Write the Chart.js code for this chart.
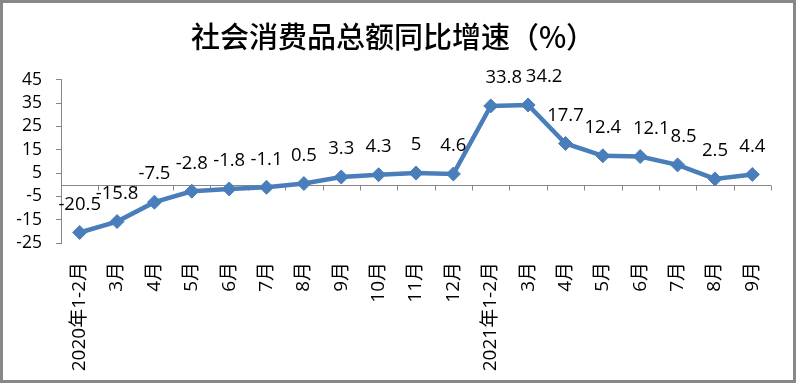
<!DOCTYPE html>
<html><head><meta charset="utf-8">
<script src="https://cdn.jsdelivr.net/npm/chart.js@4.4.0/dist/chart.umd.min.js"></script>
<style>html,body{margin:0;padding:0;background:#fff;}#wrap{width:796px;height:383px;}</style>
</head><body><div id="wrap"><canvas id="c" width="796" height="383"></canvas></div>
<script>
const categories = ['2020年1-2月','3月','4月','5月','6月','7月','8月','9月','10月','11月','12月','2021年1-2月','3月','4月','5月','6月','7月','8月','9月'];
const growth = [-20.5,-15.8,-7.5,-2.8,-1.8,-1.1,0.5,3.3,4.3,5,4.6,33.8,34.2,17.7,12.4,12.1,8.5,2.5,4.4];
const yTicks = [-25,-15,-5,5,15,25,35,45];
const titleText = '社会消费品总额同比增速（%）';

const AXIS = '#868686';
const LINE = '#4A7EBB';
const LATIN = '"Open Sans", "Noto Sans CJK SC", sans-serif';

const frame = {
  id: 'frame',
  afterDraw(chart) {
    const ctx = chart.ctx;
    ctx.save();
    ctx.strokeStyle = '#878787';
    ctx.lineWidth = 3;
    ctx.strokeRect(1.5, 1.5, chart.width - 3, chart.height - 3);
    ctx.restore();
  }
};

const zeroAxis = {
  id: 'zeroAxis',
  beforeDatasetsDraw(chart) {
    const {ctx, chartArea, scales} = chart;
    const y0 = Math.round(scales.y.getPixelForValue(0)) + 0.5;
    ctx.save();
    ctx.strokeStyle = AXIS;
    ctx.lineWidth = 1;
    ctx.beginPath();
    ctx.moveTo(chartArea.left, y0);
    ctx.lineTo(chartArea.right, y0);
    for (let i = 0; i <= categories.length; i++) {
      const x = Math.round(scales.x.getPixelForValue(i - 0.5)) + 0.5;
      ctx.moveTo(x, y0);
      ctx.lineTo(x, y0 + 5);
    }
    ctx.stroke();
    ctx.restore();
  }
};

const valueLabels = {
  id: 'valueLabels',
  afterDatasetsDraw(chart, args, opts) {
    const {ctx} = chart;
    const meta = chart.getDatasetMeta(0);
    ctx.save();
    ctx.font = '18.5px ' + LATIN;
    ctx.fillStyle = '#000';
    ctx.textAlign = 'center';
    ctx.textBaseline = 'middle';
    meta.data.forEach((pt, i) => {
      const dx = (opts.shift && opts.shift[i]) || 0;
      ctx.fillText(String(growth[i]), pt.x + dx, pt.y - 28);
    });
    ctx.restore();
  }
};

new Chart(document.getElementById('c'), {
  type: 'line',
  data: {
    labels: categories,
    datasets: [{
      data: growth,
      borderColor: LINE,
      backgroundColor: LINE,
      borderWidth: 4.5,
      pointStyle: 'rectRot',
      pointRadius: 7,
      pointBorderWidth: 1,
      pointBackgroundColor: LINE,
      pointBorderColor: LINE,
      tension: 0,
      fill: false
    }]
  },
  options: {
    responsive: false,
    animation: false,
    layout: {padding: {left: 15, right: 25, top: 0, bottom: 0}},
    plugins: {
      legend: {display: false},
      tooltip: {enabled: false},
      title: {
        display: true,
        text: titleText,
        color: '#000',
        font: {family: '"Noto Sans CJK SC", sans-serif', size: 29, weight: '500'},
        padding: {top: 20, bottom: 25}
      },
      valueLabels: {shift: {11: 13, 12: 16, 15: 11, 16: 6}}
    },
    scales: {
      x: {
        type: 'category',
        offset: true,
        grid: {display: false, drawTicks: false},
        border: {display: false},
        ticks: {
          autoSkip: false,
          minRotation: 90,
          maxRotation: 90,
          padding: 19,
          color: '#000',
          font: {family: LATIN, size: 19}
        },
        afterFit(scale) { scale.height = 140; }
      },
      y: {
        min: -25,
        max: 45,
        afterBuildTicks(scale) { scale.ticks = yTicks.map(v => ({value: v})); },
        grid: {drawOnChartArea: false, drawTicks: true, tickLength: 5, color: AXIS},
        border: {display: true, color: AXIS, width: 1},
        ticks: {
          autoSkip: false,
          padding: 14,
          color: '#000',
          font: {family: LATIN, size: 17.5}
        },
        afterFit(scale) { scale.width = 46; }
      }
    }
  },
  plugins: [zeroAxis, valueLabels, frame]
});
</script>
</body></html>
